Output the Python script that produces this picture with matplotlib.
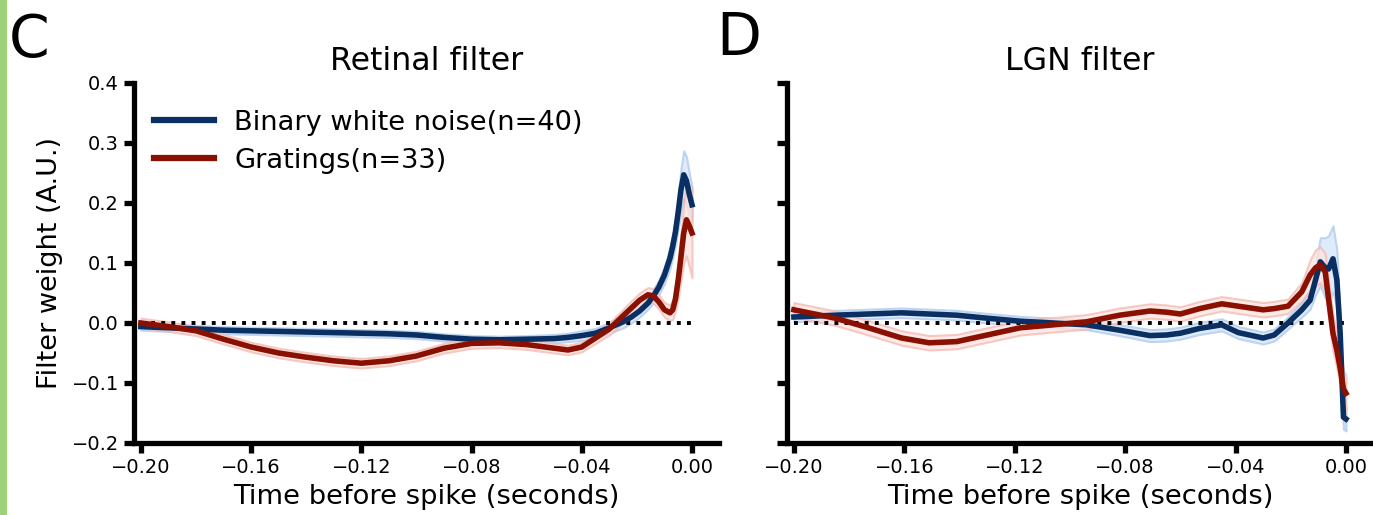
import matplotlib
matplotlib.use("Agg")
import matplotlib.pyplot as plt
from matplotlib.patches import Rectangle
import numpy as np

# ---------------- data ----------------
t_ret = [-0.200, -0.190, -0.180, -0.170, -0.160, -0.150, -0.140, -0.130, -0.120, -0.110,
         -0.100, -0.090, -0.080, -0.070, -0.060, -0.050, -0.045, -0.040, -0.035, -0.030,
         -0.025, -0.022, -0.019, -0.016, -0.014, -0.012, -0.010, -0.008, -0.007, -0.006,
         -0.005, -0.004, -0.003, -0.002, -0.001, 0.000]
ret_noise = [-0.006, -0.008, -0.010, -0.012, -0.013, -0.014, -0.015, -0.016, -0.017, -0.018,
             -0.020, -0.024, -0.027, -0.028, -0.027, -0.026, -0.024, -0.021, -0.017, -0.008,
             0.002, 0.010, 0.020, 0.033, 0.045, 0.060, 0.080, 0.108, 0.128, 0.152,
             0.185, 0.222, 0.247, 0.237, 0.215, 0.197]
ret_noise_err = [0.006, 0.006, 0.006, 0.006, 0.006, 0.006, 0.006, 0.006, 0.006, 0.006,
                 0.006, 0.006, 0.006, 0.006, 0.006, 0.007, 0.007, 0.008, 0.008, 0.009,
                 0.010, 0.010, 0.010, 0.010, 0.011, 0.012, 0.014, 0.017, 0.019, 0.022,
                 0.028, 0.035, 0.040, 0.040, 0.035, 0.030]
ret_grat = [0.000, -0.006, -0.013, -0.027, -0.040, -0.050, -0.057, -0.063, -0.067, -0.063,
            -0.055, -0.042, -0.034, -0.033, -0.036, -0.042, -0.045, -0.040, -0.025, -0.010,
            0.012, 0.025, 0.038, 0.047, 0.045, 0.035, 0.022, 0.017, 0.022, 0.040,
            0.072, 0.110, 0.150, 0.172, 0.162, 0.150]
ret_grat_err = [0.008, 0.008, 0.008, 0.008, 0.008, 0.008, 0.008, 0.008, 0.008, 0.008,
                0.008, 0.008, 0.008, 0.008, 0.008, 0.008, 0.008, 0.008, 0.009, 0.010,
                0.011, 0.012, 0.012, 0.012, 0.012, 0.012, 0.012, 0.013, 0.016, 0.020,
                0.030, 0.040, 0.050, 0.060, 0.068, 0.075]

t_lgn = [-0.200, -0.185, -0.173, -0.161, -0.151, -0.141, -0.130, -0.118, -0.106, -0.094,
         -0.082, -0.071, -0.065, -0.060, -0.053, -0.045, -0.039, -0.030, -0.026, -0.021,
         -0.016, -0.013, -0.011, -0.0093, -0.0075, -0.0063, -0.0047, -0.0033, -0.0021,
         -0.0009, 0.000]
lgn_noise = [0.010, 0.013, 0.015, 0.017, 0.015, 0.013, 0.008, 0.003, 0.000, -0.003,
             -0.012, -0.021, -0.020, -0.017, -0.009, -0.003, -0.016, -0.025, -0.020, 0.000,
             0.022, 0.038, 0.072, 0.102, 0.092, 0.090, 0.107, 0.072, -0.017, -0.157, -0.160]
lgn_noise_err = [0.008, 0.008, 0.008, 0.008, 0.008, 0.008, 0.008, 0.008, 0.008, 0.008,
                 0.009, 0.010, 0.010, 0.010, 0.010, 0.010, 0.010, 0.010, 0.010, 0.010,
                 0.012, 0.015, 0.025, 0.040, 0.050, 0.055, 0.055, 0.050, 0.030, 0.020, 0.020]
lgn_grat = [0.022, 0.008, -0.008, -0.025, -0.033, -0.031, -0.020, -0.008, -0.003, 0.002,
            0.013, 0.020, 0.018, 0.015, 0.024, 0.032, 0.028, 0.022, 0.024, 0.028,
            0.052, 0.080, 0.092, 0.097, 0.085, 0.040, -0.017, -0.045, -0.075, -0.110, -0.117]
lgn_grat_err = [0.012, 0.012, 0.012, 0.012, 0.012, 0.012, 0.012, 0.012, 0.012, 0.012,
                0.012, 0.012, 0.012, 0.012, 0.012, 0.012, 0.012, 0.012, 0.012, 0.012,
                0.015, 0.025, 0.030, 0.030, 0.030, 0.030, 0.030, 0.030, 0.030, 0.030, 0.030]

xticks = [-0.20, -0.16, -0.12, -0.08, -0.04, 0.00]
yticks = [-0.2, -0.1, 0.0, 0.1, 0.2, 0.3, 0.4]
labels = ["Binary white noise(n=40)", "Gratings(n=33)"]

# ---------------- style ----------------
BLUE = "#0a2f62"
RED = "#8a1002"
BLUE_FILL = "#dbe9fb"
BLUE_EDGE = "#b8d0ee"
RED_FILL = "#fde3df"
RED_EDGE = "#f3b9b1"

plt.rcParams['font.family'] = ['DejaVu Sans']

W, H = 1373, 515
fig = plt.figure(figsize=(W / 100, H / 100), dpi=100)

# green bar at left edge
fig.patches.append(Rectangle((0, 0), 7 / W, 1, transform=fig.transFigure,
                             facecolor="#9dd17a", edgecolor="none", zorder=0))

bottom = (H - 443) / H
height = (443 - 83) / H
axL = fig.add_axes([134 / W, bottom, (719 - 134) / W, height])
axR = fig.add_axes([787 / W, bottom, (1373 - 787) / W, height])


def draw(ax, t, noise, noise_err, grat, grat_err, title):
    t = np.asarray(t)
    n = np.asarray(noise); ne = np.asarray(noise_err)
    g = np.asarray(grat); ge = np.asarray(grat_err)
    ax.fill_between(t, n - ne, n + ne, facecolor=BLUE_FILL, edgecolor=BLUE_EDGE,
                    linewidth=1.5, zorder=1, alpha=0.9)
    ax.fill_between(t, g - ge, g + ge, facecolor=RED_FILL, edgecolor=RED_EDGE,
                    linewidth=1.5, zorder=1, alpha=0.75)
    ax.plot([-0.2, 0.0], [0, 0], color="black", linestyle=(0, (1, 1.6)),
            linewidth=2.8, zorder=2)
    ax.plot(t, n, color=BLUE, linewidth=4.0, zorder=3, label=labels[0],
            solid_joinstyle="round")
    ax.plot(t, g, color=RED, linewidth=4.0, zorder=4, label=labels[1],
            solid_joinstyle="round")
    ax.set_xlim(-0.2025, 0.0098)
    ax.set_ylim(-0.2, 0.4)
    ax.set_xticks(xticks)
    ax.set_xticklabels([f"{v:.2f}".replace("-", "\u2212") for v in xticks])
    ax.set_yticks(yticks)
    ax.set_yticklabels([f"{v:.1f}".replace("-", "\u2212") for v in yticks])
    for s in ("top", "right"):
        ax.spines[s].set_visible(False)
    for s in ("left", "bottom"):
        ax.spines[s].set_linewidth(3.8)
    ax.tick_params(axis="both", which="major", length=7, width=3.8,
                   labelsize=14, pad=4)
    ax.set_xlabel("Time before spike (seconds)", fontsize=19.7, labelpad=5)
    ax.set_title(title, fontsize=22.8, pad=9)


draw(axL, t_ret, ret_noise, ret_noise_err, ret_grat, ret_grat_err, "Retinal filter")
draw(axR, t_lgn, lgn_noise, lgn_noise_err, lgn_grat, lgn_grat_err, "LGN filter")

axL.set_ylabel("Filter weight (A.U.)", fontsize=19.5, labelpad=6)
axR.tick_params(axis="y", labelleft=False)

leg = axL.legend(loc="upper left", bbox_to_anchor=(0.034, 0.926), frameon=False,
                 fontsize=19.6, handlelength=2.2, handletextpad=0.75,
                 labelspacing=0.45, borderpad=0, borderaxespad=0)
for line in leg.get_lines():
    line.set_linewidth(4.5)

fig.text(9 / W, 1 - 57 / H, "C", fontsize=42, ha="left", va="baseline")
fig.text(716 / W, 1 - 55 / H, "D", fontsize=42, ha="left", va="baseline")

fig.savefig("out.png", dpi=100)
